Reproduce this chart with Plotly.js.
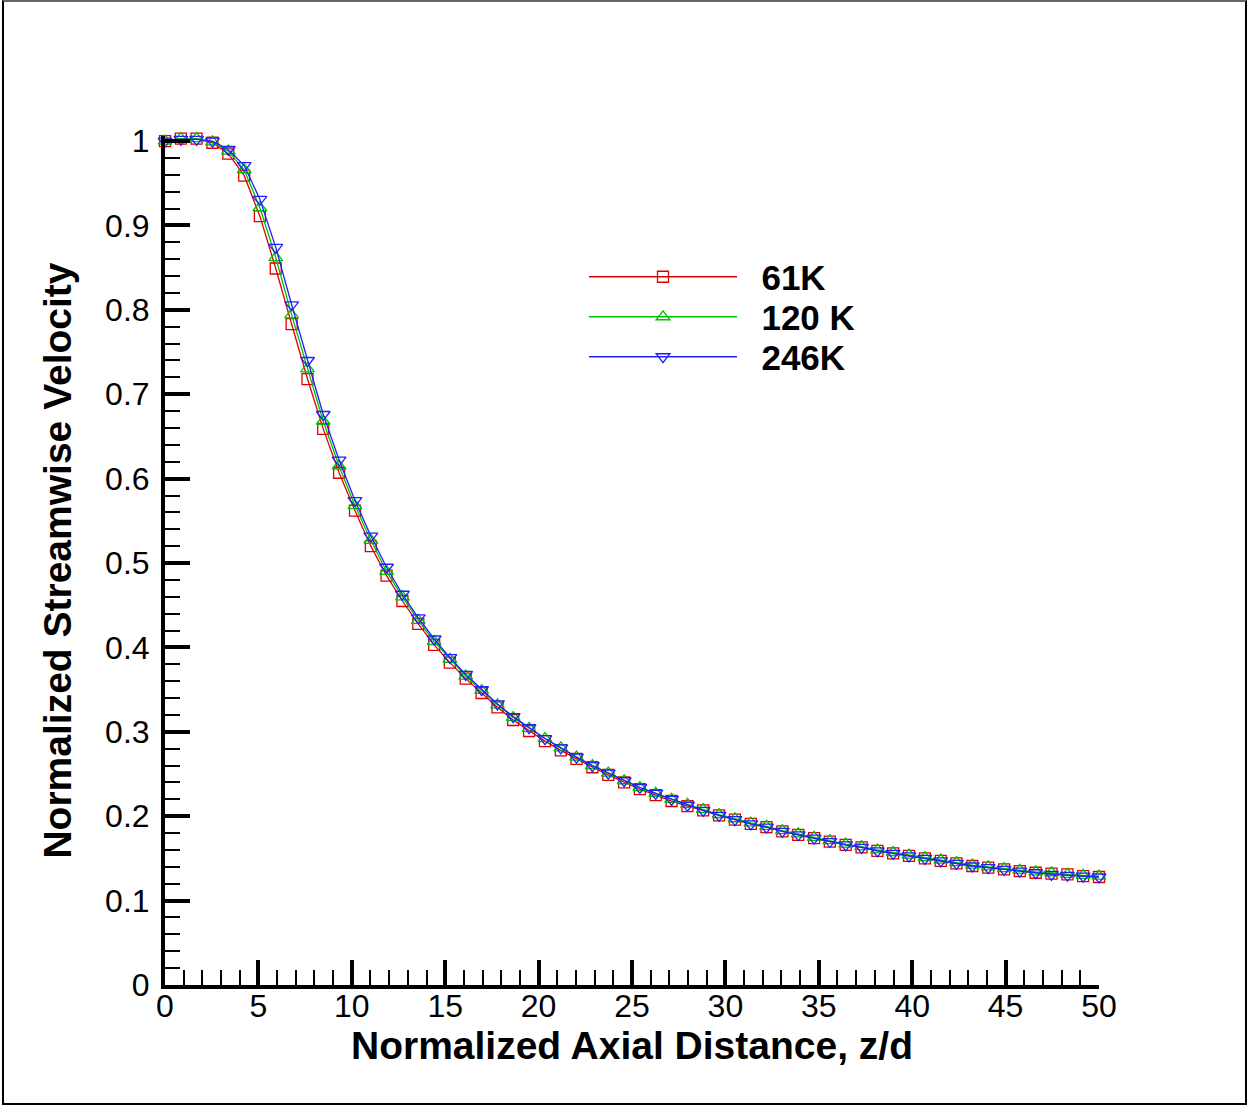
<!DOCTYPE html>
<html>
<head>
<meta charset="utf-8">
<script src="https://cdn.plot.ly/plotly-3.0.1.min.js"></script>
<style>
  html, body { margin: 0; padding: 0; background: #fff; }
  #wrap { position: relative; width: 1247px; height: 1105px; }
  #frame { position: absolute; left: 2px; top: 0px; width: 1241px; height: 1101px; border: 2px solid #000; border-top-color: #666; pointer-events: none; }
</style>
</head>
<body>
<div id="wrap">
  <div id="chart" style="width:1247px;height:1105px;"></div>
  <div id="frame"></div>
</div>
<script>
// Normalized axial distance z/d at each sampled station
const zd = [0.00, 0.85, 1.69, 2.54, 3.39, 4.24, 5.08, 5.93, 6.78, 7.63,
            8.47, 9.32, 10.17, 11.02, 11.86, 12.71, 13.56, 14.41, 15.25, 16.10,
            16.95, 17.80, 18.64, 19.49, 20.34, 21.19, 22.03, 22.88, 23.73, 24.58,
            25.42, 26.27, 27.12, 27.97, 28.81, 29.66, 30.51, 31.36, 32.20, 33.05,
            33.90, 34.75, 35.59, 36.44, 37.29, 38.14, 38.98, 39.83, 40.68, 41.53,
            42.37, 43.22, 44.07, 44.92, 45.76, 46.61, 47.46, 48.31, 49.15, 50.00];

const vel61K = [1.000, 1.003, 1.003, 0.998, 0.985, 0.959, 0.911, 0.849, 0.783, 0.718,
                0.659, 0.607, 0.562, 0.520, 0.485, 0.455, 0.428, 0.403, 0.382, 0.363,
                0.346, 0.329, 0.314, 0.301, 0.289, 0.278, 0.268, 0.258, 0.249, 0.240,
                0.232, 0.225, 0.218, 0.212, 0.207, 0.201, 0.196, 0.191, 0.187, 0.182,
                0.178, 0.174, 0.170, 0.166, 0.163, 0.159, 0.156, 0.153, 0.150, 0.147,
                0.144, 0.141, 0.139, 0.137, 0.135, 0.133, 0.132, 0.131, 0.129, 0.128];

const vel120K = [1.000, 1.003, 1.003, 0.999, 0.988, 0.966, 0.921, 0.862, 0.794, 0.730,
                 0.668, 0.615, 0.568, 0.527, 0.490, 0.460, 0.432, 0.407, 0.386, 0.366,
                 0.349, 0.332, 0.317, 0.304, 0.292, 0.281, 0.270, 0.260, 0.251, 0.242,
                 0.234, 0.227, 0.220, 0.214, 0.208, 0.202, 0.197, 0.192, 0.188, 0.183,
                 0.179, 0.175, 0.171, 0.167, 0.164, 0.160, 0.157, 0.154, 0.151, 0.148,
                 0.145, 0.142, 0.140, 0.138, 0.136, 0.134, 0.133, 0.131, 0.130, 0.129];

const vel246K = [1.000, 1.002, 1.002, 1.000, 0.990, 0.971, 0.931, 0.874, 0.806, 0.740,
                 0.676, 0.622, 0.574, 0.532, 0.495, 0.463, 0.435, 0.410, 0.388, 0.368,
                 0.350, 0.333, 0.318, 0.305, 0.292, 0.281, 0.270, 0.260, 0.251, 0.242,
                 0.234, 0.227, 0.220, 0.213, 0.207, 0.201, 0.196, 0.191, 0.187, 0.182,
                 0.178, 0.174, 0.170, 0.166, 0.163, 0.159, 0.156, 0.153, 0.150, 0.147,
                 0.144, 0.141, 0.139, 0.137, 0.135, 0.133, 0.131, 0.130, 0.129, 0.128];

const seriesNames = ['61K', '120 K', '246K'];

const FONT = '"Liberation Sans", Arial, Helvetica, sans-serif';
const NB = '\u00A0\u00A0';

function mkTrace(y, name, color, symbol, size, legendId) {
  return {
    x: zd, y: y, name: NB + name, type: 'scatter', mode: 'lines+markers',
    cliponaxis: false, legend: legendId,
    line: { color: color, width: 1.3 },
    marker: { symbol: symbol, size: size, color: color, line: { color: color, width: 1.3 } }
  };
}

const traces = [
  mkTrace(vel61K, seriesNames[0], '#e00000', 'square-open', 11, 'legend'),
  mkTrace(vel120K, seriesNames[1], '#00c000', 'triangle-up-open', 12, 'legend2'),
  mkTrace(vel246K, seriesNames[2], '#2020ff', 'triangle-down-open', 12, 'legend3')
];

function mkLegend(yc) {
  return {
    x: 0.4486, y: yc, xanchor: 'left', yanchor: 'middle',
    bgcolor: 'rgba(0,0,0,0)', borderwidth: 0,
    itemwidth: 148,
    font: { family: FONT, size: 35, color: '#000', weight: 'bold' }
  };
}

const axisCommon = {
  showline: true, linecolor: '#000', linewidth: 4, mirror: false,
  showgrid: false, zeroline: false,
  ticks: 'inside', ticklen: 25, tickwidth: 4, tickcolor: '#000',
  tickfont: { family: FONT, size: 32, color: '#000' },
};

const layout = {
  width: 1247, height: 1105,
  margin: { l: 165, r: 148, t: 136, b: 120, pad: 0 },
  paper_bgcolor: '#fff', plot_bgcolor: '#fff',
  showlegend: true,
  legend: mkLegend(0.8339),
  legend2: mkLegend(0.7868),
  legend3: mkLegend(0.7397),
  xaxis: Object.assign({}, axisCommon, {
    range: [0, 50], dtick: 5, tick0: 0,
    ticklabelstandoff: -10,
    minor: { dtick: 1, ticks: 'inside', ticklen: 15, tickwidth: 2, tickcolor: '#000', showgrid: false },
    title: { text: 'Normalized Axial Distance, z/d', standoff: 0,
             font: { family: FONT, size: 39, color: '#000', weight: 'bold' } }
  }),
  yaxis: Object.assign({}, axisCommon, {
    range: [0, 1.006], tickvals: [0, 0.1, 0.2, 0.3, 0.4, 0.5, 0.6, 0.7, 0.8, 0.9, 1],
    ticklabelstandoff: 5,
    minor: { dtick: 0.02, tick0: 0, ticks: 'inside', ticklen: 15, tickwidth: 2, tickcolor: '#000', showgrid: false },
    title: { text: 'Normalized Streamwise Velocity', standoff: 22,
             font: { family: FONT, size: 39, color: '#000', weight: 'bold' } }
  })
};

Plotly.newPlot('chart', traces, layout, { displayModeBar: false, staticPlot: true });
</script>
</body>
</html>
